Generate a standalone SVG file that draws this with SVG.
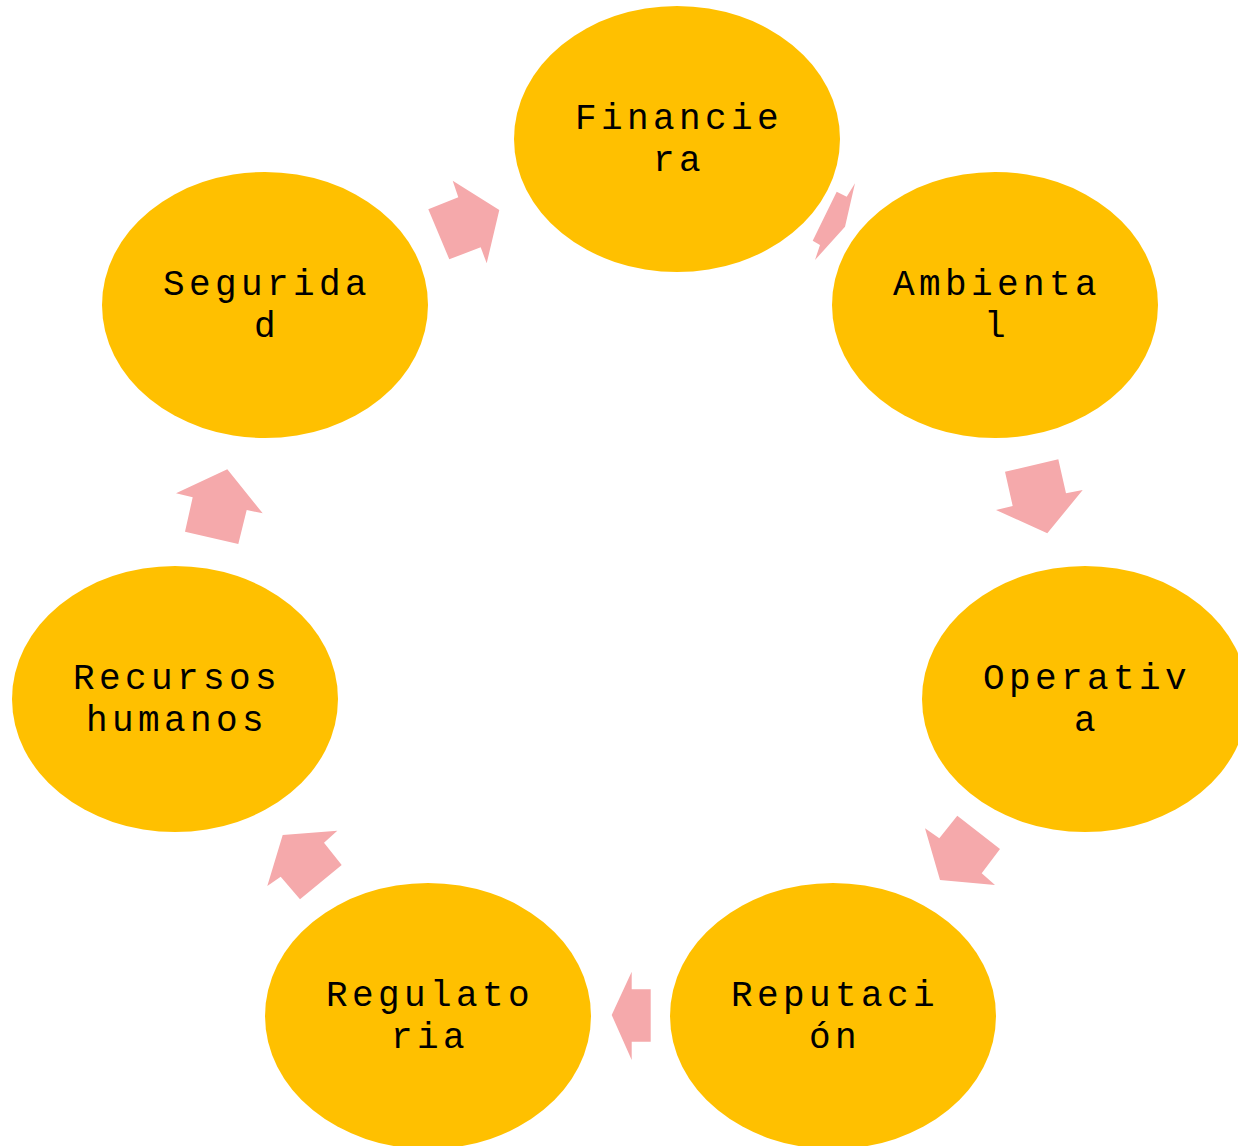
<svg xmlns="http://www.w3.org/2000/svg" width="1238" height="1146" viewBox="0 0 1238 1146">
<style>
.n{fill:#FFC000}
.t{font-family:"Liberation Mono","Courier New",monospace;font-size:36px;letter-spacing:4.4px;fill:#000;text-anchor:middle}
.a{fill:#F5A9AB}
</style>
<rect width="1238" height="1146" fill="#fff"/>
<g id="connectors">
<polygon class="a" points="428.3,209.3 458.3,197.3 452.7,180.7 499.3,210 486.7,263.3 480.7,247.3 449.3,259.3"/>
<polygon class="a" points="812.7,240.7 836.7,191.7 846.7,196.7 855,183.3 845,226.7 815,260 820,245"/>
<polygon class="a" points="1005,471.7 1058.3,459.3 1066,493.3 1082.7,490 1047.3,533.3 996,510 1012.7,506"/>
<polygon class="a" points="957.3,815.7 1000,849 981.7,873.3 995,885 940,880 925,828.3 939.3,838.3"/>
<polygon class="a" points="650.7,989.3 650.7,1041.7 631.7,1041.7 631.7,1060 611.7,1015 631.7,971.7 631.7,989.3"/>
<polygon class="a" points="282.7,835 337.3,830.7 324,842.7 341.7,865 300,899.3 280.7,876.7 267.3,886"/>
<polygon class="a" points="176,493.3 227.3,469.3 262.7,513.3 246.7,510 238.3,544 185,531.7 192.7,497.3"/>
</g>
<g id="financiera"><ellipse class="n" cx="677" cy="139" rx="163" ry="133"/><text class="t" x="679" y="129">Financie</text><text class="t" x="679" y="171">ra</text></g>
<g id="ambiental"><ellipse class="n" cx="995" cy="305" rx="163" ry="133"/><text class="t" x="997" y="295">Ambienta</text><text class="t" x="997" y="337">l</text></g>
<g id="operativa"><ellipse class="n" cx="1085" cy="699" rx="163" ry="133"/><text class="t" x="1087" y="689">Operativ</text><text class="t" x="1087" y="731">a</text></g>
<g id="reputacion"><ellipse class="n" cx="833" cy="1016" rx="163" ry="133"/><text class="t" x="835" y="1006">Reputaci</text><text class="t" x="835" y="1048">ón</text></g>
<g id="regulatoria"><ellipse class="n" cx="428" cy="1016" rx="163" ry="133"/><text class="t" x="430" y="1006">Regulato</text><text class="t" x="430" y="1048">ria</text></g>
<g id="recursos"><ellipse class="n" cx="175" cy="699" rx="163" ry="133"/><text class="t" x="177" y="689">Recursos</text><text class="t" x="177" y="731">humanos</text></g>
<g id="seguridad"><ellipse class="n" cx="265" cy="305" rx="163" ry="133"/><text class="t" x="267" y="295">Segurida</text><text class="t" x="267" y="337">d</text></g>
</svg>
